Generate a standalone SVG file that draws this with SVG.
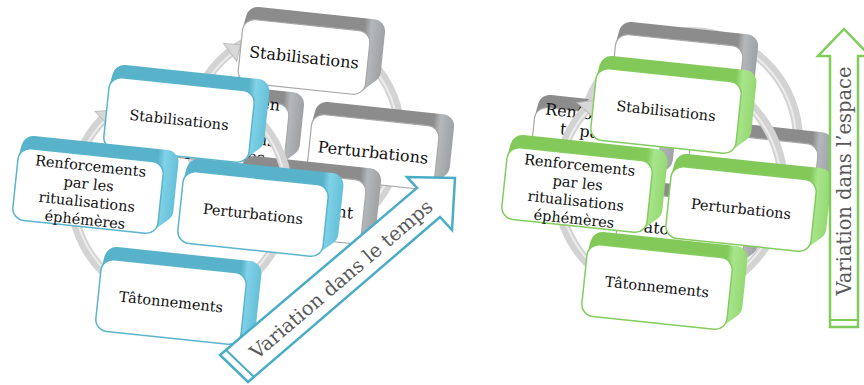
<svg xmlns="http://www.w3.org/2000/svg" xmlns:xlink="http://www.w3.org/1999/xlink" width="864" height="385" viewBox="0 0 864 385">
<style>
.eb{fill:url(#gB)} .fb{fill:#fff;stroke:#5ab4cc;stroke-width:1.5}
.eg{fill:url(#gG)} .fg{fill:#fff;stroke:#84cc5e;stroke-width:1.5}
.ek{fill:url(#gK)} .fk{fill:#fff;stroke:#a8a8a8;stroke-width:1.2}
.t1{font-family:"DejaVu Serif",serif;font-size:14.5px;fill:#111;text-anchor:middle}
.t2{font-family:"DejaVu Serif",serif;font-size:16px;fill:#111;text-anchor:middle}
.ring{fill:none;stroke:#d3d3d3;stroke-width:10}
.ring2{fill:none;stroke:#ececec;stroke-width:2}
.ah{fill:#d8d8d8;stroke:#bdbdbd;stroke-width:1}
.arrB{fill:#fff;stroke:#4bacc6;stroke-width:2.5;stroke-linejoin:miter}
.arrG{fill:#fff;stroke:#7fcc5a;stroke-width:2.5;stroke-linejoin:miter}
.at{font-family:"DejaVu Serif",serif;font-size:19.5px;fill:#595959;text-anchor:middle}
</style>
<defs>
<linearGradient id="gB" gradientUnits="userSpaceOnUse" x1="66" y1="0" x2="87" y2="0"><stop offset="0" stop-color="#58b2ca"/><stop offset="0.33" stop-color="#80d2e8"/><stop offset="1" stop-color="#66c0d8"/></linearGradient>
<linearGradient id="gG" gradientUnits="userSpaceOnUse" x1="66" y1="0" x2="87" y2="0"><stop offset="0" stop-color="#82c95a"/><stop offset="0.33" stop-color="#a8e58c"/><stop offset="1" stop-color="#95d873"/></linearGradient>
<linearGradient id="gK" gradientUnits="userSpaceOnUse" x1="57" y1="0" x2="78" y2="0"><stop offset="0" stop-color="#8c8c8c"/><stop offset="0.33" stop-color="#b4b8ba"/><stop offset="1" stop-color="#9ea2a5"/></linearGradient>
<path id="extA" d="M-72.87-25.82L-70.87-38.82A12 12 0 0 1-59-49L75-49A12 12 0 0 1 87-37L87 11A12 12 0 0 1 83.16 19.8L69.16 32.8A12 12 0 0 1 61 36L-61 36A12 12 0 0 1-73 24L-73-24A12 12 0 0 1-72.87-25.82Z"/>
<path id="extB" d="M-63.87-21.82L-61.87-34.82A12 12 0 0 1-50-45L66-45A12 12 0 0 1 78-33L78 7A12 12 0 0 1 74.16 15.8L60.16 28.8A12 12 0 0 1 52 32L-52 32A12 12 0 0 1-64 20L-64-20A12 12 0 0 1-63.87-21.82Z"/>
<rect id="frA" x="-73" y="-36" width="146" height="72" rx="12"/>
<rect id="frB" x="-64" y="-32" width="128" height="64" rx="12"/>
<polygon id="ahd" points="-11,-3 11,-3 0,10"/>
</defs>
<rect width="864" height="385" fill="#fff"/>

<!-- LEFT DIAGRAM -->
<g id="connectors-back-left">
<circle cx="295" cy="135" r="105" class="ring"/>
<circle cx="295" cy="135" r="103" class="ring2"/>
<g transform="translate(295,135) rotate(233.5) translate(105,0)"><use xlink:href="#ahd" class="ah"/></g>
</g>
<g id="grey-left-stabilisations" transform="translate(304,57) rotate(6)">
<use xlink:href="#extB" class="ek"/><use xlink:href="#frB" class="fk"/>
<text class="t2" y="6">Stabilisations</text>
</g>
<g id="grey-left-renforcements" transform="translate(223,130) rotate(6)">
<use xlink:href="#extB" class="ek"/><use xlink:href="#frB" class="fk"/>
<text class="t2"><tspan x="0" y="-25">Renforcemen</tspan><tspan x="0" y="-7">ts par les</tspan><tspan x="0" y="11">ritualisations</tspan><tspan x="0" y="29">éphémères</tspan></text>
</g>
<g id="grey-left-perturbations" transform="translate(373,152) rotate(6)">
<use xlink:href="#extB" class="ek"/><use xlink:href="#frB" class="fk"/>
<text class="t2" y="6">Perturbations</text>
</g>
<g id="grey-left-tatonnements" transform="translate(300,206) rotate(6)">
<use xlink:href="#extB" class="ek"/><use xlink:href="#frB" class="fk"/>
<text class="t2"><tspan x="0" y="7">Tâtonnement</tspan><tspan x="0" y="26">s</tspan></text>
</g>
<g id="connectors-front-left">
<circle cx="180" cy="195" r="108" class="ring"/>
<circle cx="180" cy="195" r="106" class="ring2"/>
<g transform="translate(180,195) rotate(226) translate(108,0)"><use xlink:href="#ahd" class="ah"/></g>
</g>
<g id="blue-stabilisations" transform="translate(179,120) rotate(6)">
<use xlink:href="#extA" class="eb"/><use xlink:href="#frA" class="fb"/>
<text class="t1" y="5">Stabilisations</text>
</g>
<g id="blue-renforcements" transform="translate(88,191) rotate(6)">
<use xlink:href="#extA" class="eb"/><use xlink:href="#frA" class="fb"/>
<text class="t1"><tspan x="0" y="-20">Renforcements</tspan><tspan x="0" y="-2">par les</tspan><tspan x="0" y="16">ritualisations</tspan><tspan x="0" y="34">éphémères</tspan></text>
</g>
<g id="blue-perturbations" transform="translate(253,214) rotate(6)">
<use xlink:href="#extA" class="eb"/><use xlink:href="#frA" class="fb"/>
<text class="t1" y="5">Perturbations</text>
</g>
<g id="blue-tatonnements" transform="translate(171,302) rotate(6)">
<use xlink:href="#extA" class="eb"/><use xlink:href="#frA" class="fb"/>
<text class="t1" y="5">Tâtonnements</text>
</g>
<g id="arrow-temps">
<polygon class="arrB" points="220,355 417,188 407,177 455,178 452,230 440,217 248,382"/>
<line x1="226" y1="350" x2="254" y2="377" stroke="#4bacc6" stroke-width="2"/>
<text class="at" transform="translate(341,279) rotate(-40.5)" y="7">Variation dans le temps</text>
</g>

<!-- RIGHT DIAGRAM -->
<g id="connectors-back-right">
<circle cx="690" cy="140" r="108" class="ring"/>
<circle cx="690" cy="140" r="106" class="ring2"/>
</g>
<g id="grey-right-stabilisations" transform="translate(677,72) rotate(6)">
<use xlink:href="#extB" class="ek"/><use xlink:href="#frB" class="fk"/>
<text class="t2" y="6">Stabilisations</text>
</g>
<g id="grey-right-renforcements" transform="translate(596,145) rotate(6)">
<use xlink:href="#extB" class="ek"/><use xlink:href="#frB" class="fk"/>
<text class="t2"><tspan x="0" y="-25">Renforcemen</tspan><tspan x="0" y="-7">ts par les</tspan><tspan x="0" y="11">ritualisations</tspan><tspan x="0" y="29">éphémères</tspan></text>
</g>
<g id="grey-right-perturbations" transform="translate(752,170) rotate(6)">
<use xlink:href="#extB" class="ek"/><use xlink:href="#frB" class="fk"/>
<text class="t2" y="8">Perturbations</text>
</g>
<g id="grey-right-tatonnements" transform="translate(681,230) rotate(6)">
<use xlink:href="#extB" class="ek"/><use xlink:href="#frB" class="fk"/>
<text class="t2"><tspan x="6" y="6">Tâtonnement</tspan><tspan x="6" y="25">s</tspan></text>
</g>
<g id="connectors-front-right">
<circle cx="670" cy="185" r="113" class="ring"/>
<circle cx="670" cy="185" r="111" class="ring2"/>
<g transform="translate(670,185) rotate(223) translate(113,0)"><use xlink:href="#ahd" class="ah"/></g>
</g>
<g id="green-stabilisations" transform="translate(666,111) rotate(6)">
<use xlink:href="#extA" class="eg"/><use xlink:href="#frA" class="fg"/>
<text class="t1" y="5">Stabilisations</text>
</g>
<g id="green-renforcements" transform="translate(577,190) rotate(6)">
<use xlink:href="#extA" class="eg"/><use xlink:href="#frA" class="fg"/>
<text class="t1"><tspan x="0" y="-20">Renforcements</tspan><tspan x="0" y="-2">par les</tspan><tspan x="0" y="16">ritualisations</tspan><tspan x="0" y="34">éphémères</tspan></text>
</g>
<g id="green-perturbations" transform="translate(741,209) rotate(6)">
<use xlink:href="#extA" class="eg"/><use xlink:href="#frA" class="fg"/>
<text class="t1" y="5">Perturbations</text>
</g>
<g id="green-tatonnements" transform="translate(657,287) rotate(6)">
<use xlink:href="#extA" class="eg"/><use xlink:href="#frA" class="fg"/>
<text class="t1" y="5">Tâtonnements</text>
</g>
<g id="arrow-espace">
<polygon class="arrG" points="830,327 830,56 818,56 844,29 870,56 858,56 858,327"/>
<line x1="830" y1="320" x2="858" y2="320" stroke="#7fcc5a" stroke-width="2"/>
<text class="at" transform="translate(844,181) rotate(-90)" y="7">Variation dans l’espace</text>
</g>
</svg>
